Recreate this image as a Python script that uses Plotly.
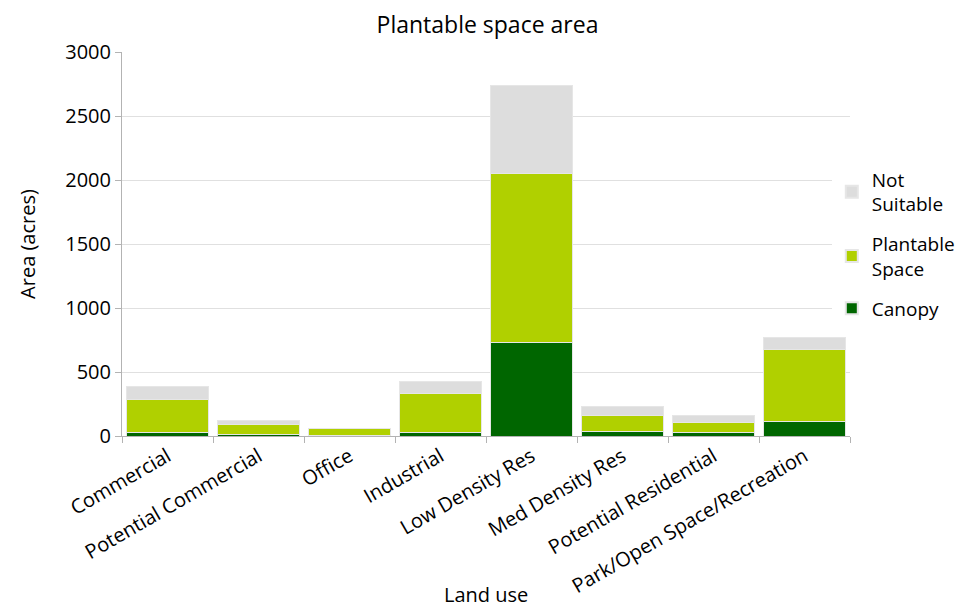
import plotly.graph_objects as go

categories = ["Commercial", "Potential Commercial", "Office", "Industrial",
              "Low Density Res", "Med Density Res", "Potential Residential",
              "Park/Open Space/Recreation"]
canopy = [31, 10, 2, 31, 731, 39, 24, 111]
plantable = [258, 76, 56, 302, 1319, 125, 83, 562]
not_suitable = [95, 34, 2, 96, 690, 65, 54, 94]

FONT = "'Open Sans', Carlito, sans-serif"
line = dict(color="#e6e6e6", width=1)

fig = go.Figure()
fig.add_trace(go.Bar(x=categories, y=canopy, name="Canopy", legendgroup="c",
                     legendrank=3, marker=dict(color="#006600", line=line)))
fig.add_trace(go.Bar(x=categories, y=plantable, name="Plantable<br>Space",
                     legendgroup="p", legendrank=2,
                     marker=dict(color="#b0d000", line=line)))
fig.add_trace(go.Bar(x=categories, y=not_suitable, name="Not<br>Suitable",
                     legendgroup="n", legendrank=1,
                     marker=dict(color="#dddddd", line=line)))

fig.update_layout(
    barmode="stack",
    bargap=0.09,
    width=959, height=599,
    margin=dict(l=114, r=117, t=44, b=171, autoexpand=False),
    paper_bgcolor="white", plot_bgcolor="white",
    font=dict(family=FONT, size=20, color="black"),
    title=dict(text="Plantable space area", x=0.5, xanchor="center",
               y=0.972, yanchor="middle", font=dict(size=23)),
    legend=dict(traceorder="grouped", x=0.975, xanchor="left", y=0.5,
                yanchor="middle", font=dict(size=19), itemsizing="constant",
                tracegroupgap=12, itemwidth=30),
    showlegend=True,
    annotations=[dict(text="Land use", xref="paper", yref="paper",
                      x=0.5, y=-0.414, xanchor="center", yanchor="middle",
                      showarrow=False, font=dict(size=20))],
)
fig.update_xaxes(
    tickangle=-30, tickson="boundaries", ticks="outside", ticklen=6,
    tickcolor="#b3b3b3", showline=True, linecolor="#b3b3b3",
    tickfont=dict(size=20), automargin=False,
)
fig.update_yaxes(
    range=[0, 3000], dtick=500, ticks="outside", ticklen=6,
    tickcolor="#b3b3b3", showline=True, linecolor="#b3b3b3",
    gridcolor="#e0e0e0", zeroline=False,
    title=dict(text="Area (acres)", font=dict(size=20), standoff=24),
    tickfont=dict(size=20), automargin=False,
)

fig.write_html("out.html")
